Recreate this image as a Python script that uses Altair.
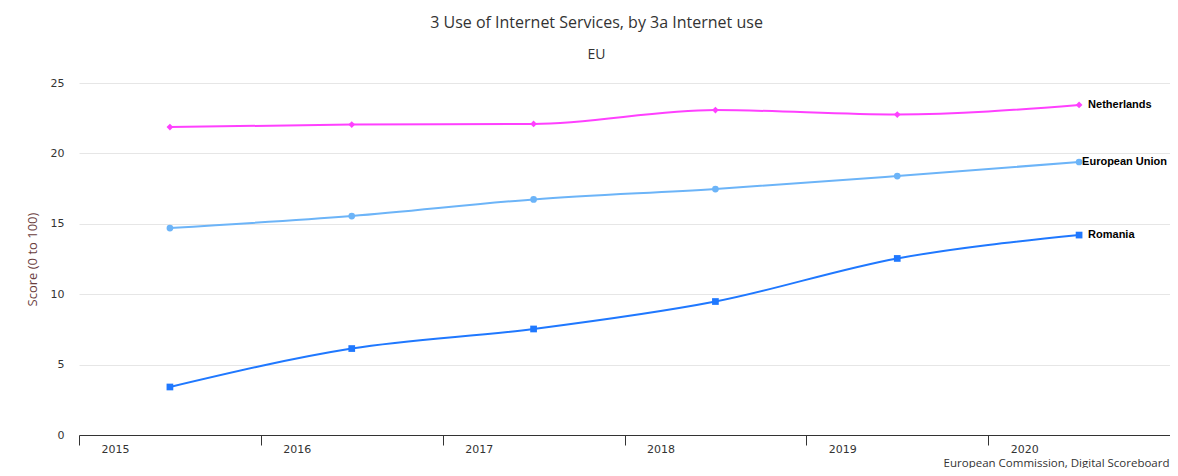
import altair as alt
import pandas as pd

years = [2015, 2016, 2017, 2018, 2019, 2020]
netherlands = [21.87, 22.05, 22.09, 23.08, 22.76, 23.44]
european_union = [14.70, 15.55, 16.73, 17.47, 18.39, 19.39]
romania = [3.41, 6.14, 7.53, 9.48, 12.54, 14.20]

series_names = ["Netherlands", "European Union", "Romania"]
series_colors = ["#ff40ff", "#6cb4f8", "#1f78ff"]
series_shapes = ["diamond", "circle", "square"]

rows = []
for name, vals in zip(series_names, [netherlands, european_union, romania]):
    for y, v in zip(years, vals):
        rows.append({"year": y, "value": v, "series": name})
df = pd.DataFrame(rows)

W = 1091
H = 352

base = alt.Chart(df).transform_calculate(pos="datum.year + 0.5")

x_enc = alt.X(
    "pos:Q",
    scale=alt.Scale(domain=[2015, 2021], nice=False, zero=False),
    axis=alt.Axis(
        values=[2015, 2016, 2017, 2018, 2019, 2020, 2021],
        format="d",
        labelExpr="datum.value == 2021 ? '' : datum.label",
        labelFlush=False,
        labelOverlap=False,
        labelOffset=36,
        labelPadding=-2,
        labelFont="DejaVu Sans",
        labelFontSize=11,
        labelColor="#333333",
        tickSize=10,
        tickColor="#333333",
        domainColor="#333333",
        grid=False,
        title="European Commission, Digital Scoreboard",
        titleAnchor="end",
        titleAlign="right",
        titleBaseline="alphabetic",
        titleX=W - 1,
        titleY=31,
        titleFont="Open Sans",
        titleFontSize=11.5,
        titleFontWeight="normal",
        titleColor="#333333",
    ),
)

y_enc = alt.Y(
    "value:Q",
    scale=alt.Scale(domain=[0, 25], nice=False),
    axis=alt.Axis(
        values=[0, 5, 10, 15, 20, 25],
        domain=False,
        ticks=False,
        labelPadding=15,
        labelFont="DejaVu Sans",
        labelFontSize=11,
        labelColor="#333333",
        gridColor="#e6e6e6",
        title="Score (0 to 100)",
        titleX=-40,
        titleY=176,
        titleFont="Open Sans",
        titleFontSize=13,
        titleFontWeight="normal",
        titleColor="#6a3d3d",
    ),
)

color_enc = alt.Color(
    "series:N",
    scale=alt.Scale(domain=series_names, range=series_colors),
    legend=None,
)

lines = base.mark_line(interpolate="monotone", strokeWidth=2).encode(
    x=x_enc, y=y_enc, color=color_enc, detail="series:N"
)

points = base.mark_point(filled=True, opacity=1).encode(
    x="pos:Q",
    y="value:Q",
    color=color_enc,
    shape=alt.Shape(
        "series:N",
        scale=alt.Scale(domain=series_names, range=series_shapes),
        legend=None,
    ),
    size=alt.value(45),
)

label_style = dict(align="left", baseline="middle", font="Liberation Sans",
                   fontSize=11, fontWeight="bold", color="#000000")

labels_main = base.transform_filter(
    "datum.year == 2020 && datum.series != 'European Union'"
).mark_text(dx=9, **label_style).encode(x="pos:Q", y="value:Q", text="series:N")

labels_eu = base.transform_filter(
    "datum.year == 2020 && datum.series == 'European Union'"
).mark_text(dx=3, **label_style).encode(x="pos:Q", y="value:Q", text="series:N")

chart = (
    alt.layer(lines, points, labels_main, labels_eu)
    .properties(
        width=W,
        height=H,
        autosize=alt.AutoSizeParams(type="none"),
        padding={"left": 71, "top": 75, "right": 0, "bottom": 33},
        title=alt.TitleParams(
            text="3 Use of Internet Services, by 3a Internet use",
            subtitle="EU",
            anchor="middle",
            dx=-28,
            offset=15,
            font="Open Sans",
            fontSize=16,
            fontWeight="normal",
            color="#333333",
            subtitleFont="Open Sans",
            subtitleFontSize=14,
            subtitleColor="#333333",
            subtitlePadding=17,
        ),
    )
    .configure_view(stroke=None)
)

chart.save("out.html", embed_options={"renderer": "svg", "actions": False})
